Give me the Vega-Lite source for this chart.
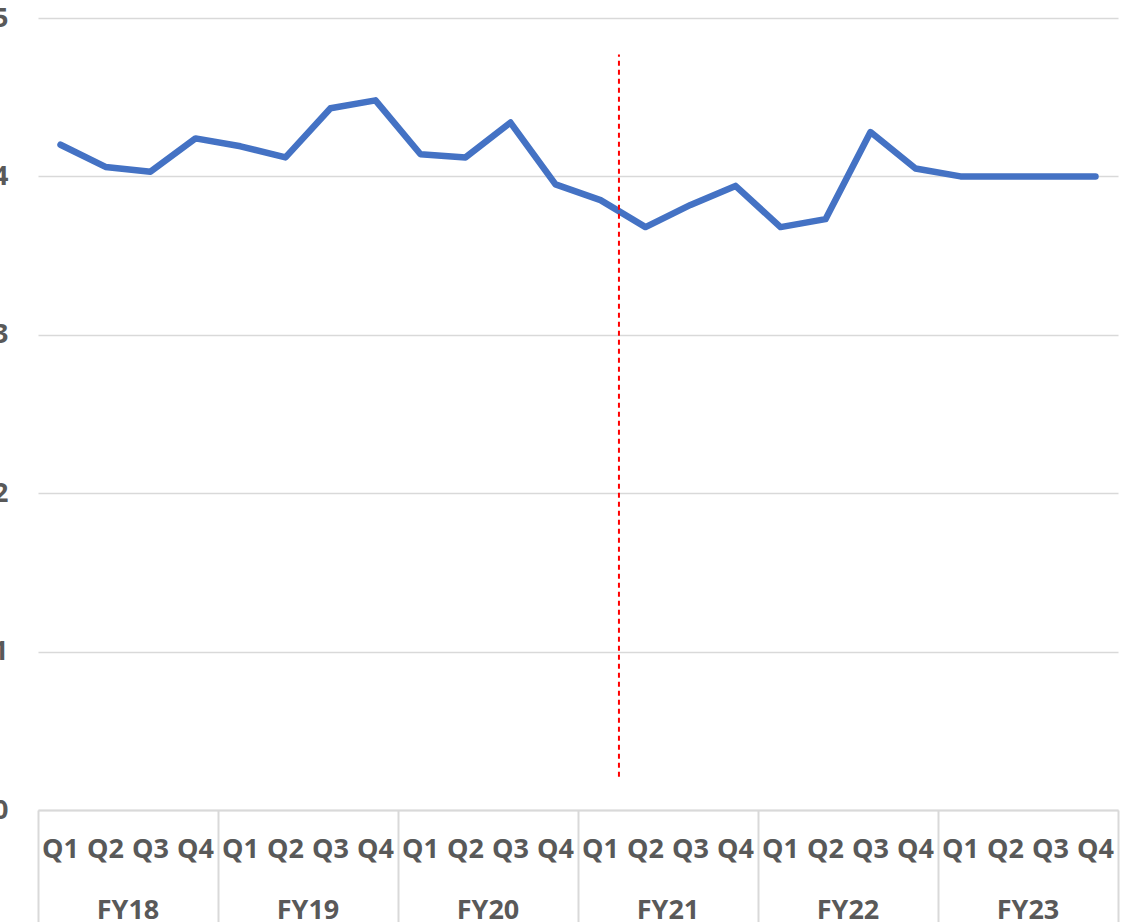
{
  "$schema": "https://vega.github.io/schema/vega-lite/v6.json",
  "width": 1080,
  "height": 792,
  "autosize": {"type": "none"},
  "padding": {"left": 38, "top": 18, "right": 9, "bottom": 112},
  "background": "white",
  "config": {"view": {"stroke": null}, "font": "Open Sans"},
  "datasets": {
    "series": [
      {"period": "FY18 Q1", "value": 4.20},
      {"period": "FY18 Q2", "value": 4.06},
      {"period": "FY18 Q3", "value": 4.03},
      {"period": "FY18 Q4", "value": 4.24},
      {"period": "FY19 Q1", "value": 4.19},
      {"period": "FY19 Q2", "value": 4.12},
      {"period": "FY19 Q3", "value": 4.43},
      {"period": "FY19 Q4", "value": 4.48},
      {"period": "FY20 Q1", "value": 4.14},
      {"period": "FY20 Q2", "value": 4.12},
      {"period": "FY20 Q3", "value": 4.34},
      {"period": "FY20 Q4", "value": 3.95},
      {"period": "FY21 Q1", "value": 3.85},
      {"period": "FY21 Q2", "value": 3.68},
      {"period": "FY21 Q3", "value": 3.82},
      {"period": "FY21 Q4", "value": 3.94},
      {"period": "FY22 Q1", "value": 3.68},
      {"period": "FY22 Q2", "value": 3.73},
      {"period": "FY22 Q3", "value": 4.28},
      {"period": "FY22 Q4", "value": 4.05},
      {"period": "FY23 Q1", "value": 4.00},
      {"period": "FY23 Q2", "value": 4.00},
      {"period": "FY23 Q3", "value": 4.00},
      {"period": "FY23 Q4", "value": 4.00}
    ],
    "marker": [
      {"period": "FY21 Q1", "low": 0.21, "high": 4.77}
    ]
  },
  "resolve": {"axis": {"x": "independent", "y": "independent"}},
  "layer": [
    {
      "data": {"name": "series"},
      "mark": {"type": "line", "color": "#4472C4", "strokeWidth": 6.5, "strokeCap": "round", "strokeJoin": "round"},
      "encoding": {
        "x": {
          "field": "period", "type": "nominal", "bandPosition": 0.5,
          "scale": {"type": "band", "paddingInner": 0, "paddingOuter": 0},
          "axis": {
            "orient": "bottom",
            "title": null, "ticks": false, "grid": false,
            "domain": true, "domainColor": "#d9d9d9", "domainWidth": 2,
            "labelExpr": "slice(datum.value, 5)", "labelAngle": 0,
            "labelFont": "Open Sans", "labelFontSize": 27, "labelFontWeight": "bold",
            "labelColor": "#595959", "labelPadding": 26, "labelBaseline": "top"
          }
        },
        "y": {
          "field": "value", "type": "quantitative",
          "scale": {"domain": [0, 5], "nice": false, "zero": true},
          "axis": {
            "orient": "left",
            "title": null, "values": [0, 1, 2, 3, 4, 5], "format": "d",
            "domain": false, "ticks": false,
            "grid": true, "gridColor": "#d9d9d9", "gridWidth": 1.5,
            "labelFont": "Open Sans", "labelFontSize": 27, "labelFontWeight": "bold",
            "labelColor": "#595959", "labelPadding": 30
          }
        }
      }
    },
    {
      "data": {"name": "marker"},
      "mark": {"type": "rule", "color": "#FF0000", "strokeWidth": 2, "strokeDash": [5, 4]},
      "encoding": {
        "x": {
          "field": "period", "type": "nominal", "bandPosition": 0.91,
          "axis": {
            "orient": "bottom",
            "title": null, "ticks": false, "grid": false, "domain": false,
            "values": ["FY18 Q2", "FY19 Q2", "FY20 Q2", "FY21 Q2", "FY22 Q2", "FY23 Q2"],
            "labelExpr": "slice(datum.value, 0, 4)", "labelAngle": 0,
            "labelAlign": "center", "labelOffset": 22.5,
            "labelFont": "Open Sans", "labelFontSize": 27, "labelFontWeight": "bold",
            "labelColor": "#595959", "labelPadding": 87, "labelBaseline": "top"
          }
        },
        "y": {"field": "low", "type": "quantitative", "axis": null},
        "y2": {"field": "high"}
      }
    },
    {
      "data": {"name": "series"},
      "mark": {"type": "point", "opacity": 0},
      "encoding": {
        "x": {
          "field": "period", "type": "nominal",
          "axis": {
            "orient": "bottom",
            "title": null, "labels": false, "grid": false, "domain": false,
            "values": ["FY18 Q1", "FY19 Q1", "FY20 Q1", "FY21 Q1", "FY22 Q1", "FY23 Q1"],
            "bandPosition": 0,
            "ticks": true, "tickSize": 112, "tickColor": "#d9d9d9", "tickWidth": 2
          }
        }
      }
    },
    {
      "data": {"name": "series"},
      "mark": {"type": "point", "opacity": 0},
      "encoding": {
        "x": {
          "field": "period", "type": "nominal",
          "axis": {
            "orient": "bottom",
            "title": null, "labels": false, "grid": false, "domain": false,
            "values": ["FY23 Q4"],
            "bandPosition": 1,
            "ticks": true, "tickSize": 112, "tickColor": "#d9d9d9", "tickWidth": 2
          }
        }
      }
    }
  ]
}
